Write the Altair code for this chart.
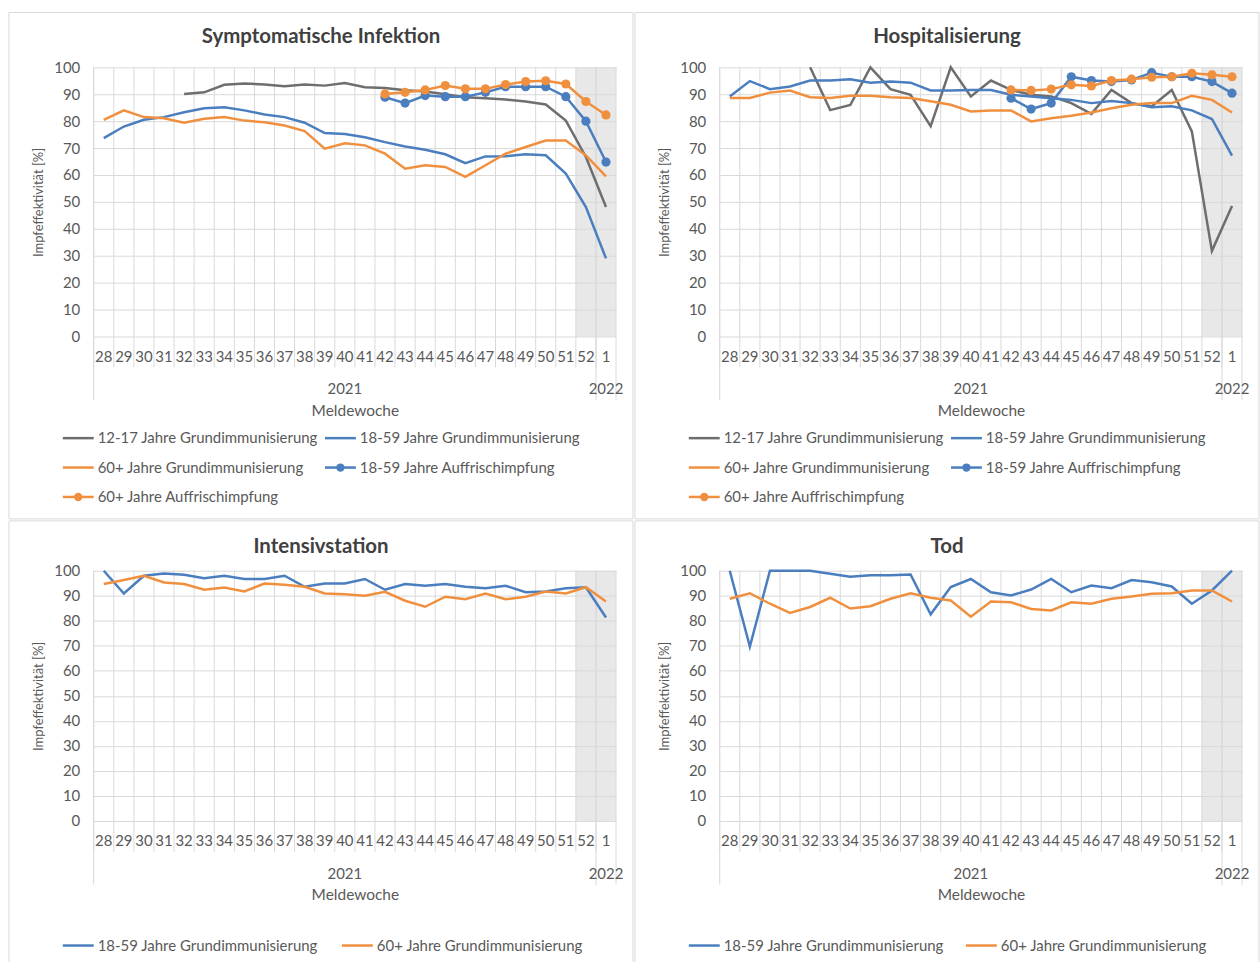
import altair as alt
import pandas as pd

weeks = ["28", "29", "30", "31", "32", "33", "34", "35", "36", "37", "38", "39", "40",
         "41", "42", "43", "44", "45", "46", "47", "48", "49", "50", "51", "52", "1"]
shaded_weeks = ["52", "1"]
year_labels = ["2021", "2022"]
year_center_weeks = ["40", "1"]
year_start_weeks = ["28", "1"]

panel_titles = ["Symptomatische Infektion", "Hospitalisierung", "Intensivstation", "Tod"]
series_names = ["12-17 Jahre Grundimmunisierung", "18-59 Jahre Grundimmunisierung",
                "60+ Jahre Grundimmunisierung", "18-59 Jahre Auffrischimpfung",
                "60+ Jahre Auffrischimpfung"]
series_colors = ["#6E6E6E", "#4A7EBF", "#F0903F", "#4A7EBF", "#F0903F"]
booster_series = ["18-59 Jahre Auffrischimpfung", "60+ Jahre Auffrischimpfung"]

N = None
# Symptomatische Infektion
sym_g12 = [N, N, N, N, 90.1, 90.7, 93.5, 94.0, 93.6, 93.0, 93.6, 93.2, 94.2, 92.6, 92.3,
           91.5, 91.0, 90.0, 88.9, 88.5, 88.0, 87.3, 86.2, 80.2, 66.7, 48.1]
sym_g18 = [73.7, 78.0, 80.5, 81.5, 83.3, 84.8, 85.2, 84.0, 82.5, 81.5, 79.4, 75.6, 75.2,
           74.0, 72.2, 70.6, 69.4, 67.7, 64.4, 66.9, 67.0, 67.7, 67.3, 60.5, 48.1, 29.0]
sym_g60 = [80.5, 84.0, 81.5, 81.1, 79.4, 80.9, 81.5, 80.2, 79.6, 78.4, 76.3, 69.8, 71.8,
           71.0, 67.9, 62.3, 63.6, 63.0, 59.3, 63.6, 67.9, 70.4, 72.8, 72.8, 67.3, 59.5]
sym_b18 = [N, N, N, N, N, N, N, N, N, N, N, N, N, N,
           88.9, 86.7, 89.5, 89.1, 89.1, 90.7, 92.8, 92.8, 92.8, 89.1, 80.0, 64.8]
sym_b60 = [N, N, N, N, N, N, N, N, N, N, N, N, N, N,
           90.1, 90.7, 91.6, 93.2, 92.0, 92.0, 93.6, 94.7, 95.0, 93.8, 87.3, 82.3]
# Hospitalisierung
hos_g12 = [N, N, N, N, 100.0, 84.1, 86.0, 100.0, 91.9, 89.8, 78.1, 100.0, 89.2, 95.1, 91.6,
           89.8, 89.2, 86.7, 82.7, 91.6, 86.7, 85.5, 91.6, 76.2, 31.8, 48.5]
hos_g18 = [89.2, 94.9, 91.9, 92.9, 95.1, 95.1, 95.6, 94.3, 94.7, 94.3, 91.4, 91.4, 91.6,
           91.6, 89.8, 89.2, 88.5, 87.9, 86.7, 87.5, 86.7, 85.2, 85.5, 84.0, 80.8, 67.2]
hos_g60 = [88.6, 88.6, 90.6, 91.4, 88.9, 88.6, 89.4, 89.4, 88.9, 88.6, 87.4, 86.1, 83.6,
           84.0, 84.0, 79.9, 81.1, 82.0, 83.2, 84.8, 86.1, 86.7, 86.7, 89.4, 87.9, 83.2]
hos_b18 = [N, N, N, N, N, N, N, N, N, N, N, N, N, N,
           88.5, 84.5, 86.7, 96.5, 95.1, 94.7, 95.3, 98.0, 96.5, 96.5, 94.7, 90.4]
hos_b60 = [N, N, N, N, N, N, N, N, N, N, N, N, N, N,
           91.6, 91.4, 91.9, 93.5, 93.1, 95.1, 95.6, 96.3, 96.5, 97.8, 97.2, 96.5]
# Intensivstation
its_g18 = [100.0, 90.9, 98.0, 98.9, 98.4, 97.0, 98.0, 96.7, 96.7, 98.0, 93.6, 94.9, 94.9,
           96.7, 92.4, 94.7, 94.0, 94.7, 93.6, 93.0, 94.0, 91.4, 91.7, 93.0, 93.4, 81.3]
its_g60 = [94.7, 96.3, 98.0, 95.3, 94.7, 92.4, 93.3, 91.7, 94.9, 94.4, 93.6, 90.9, 90.6,
           90.0, 91.6, 88.0, 85.6, 89.6, 88.6, 90.9, 88.6, 89.6, 91.7, 90.9, 93.4, 87.7]
# Tod
tod_g18 = [100.0, 69.7, 100.0, 100.0, 100.0, 98.8, 97.6, 98.2, 98.2, 98.5, 82.6, 93.5, 96.7,
           91.4, 90.1, 92.5, 96.7, 91.4, 94.1, 93.0, 96.3, 95.4, 93.7, 86.8, 92.1, 100.0]
tod_g60 = [88.8, 91.0, 86.8, 83.1, 85.5, 89.2, 84.9, 85.8, 88.8, 91.0, 89.2, 88.1, 81.6,
           87.7, 87.4, 84.7, 84.1, 87.4, 86.8, 88.8, 89.7, 90.8, 91.0, 92.1, 92.1, 87.7]

TEXT = "#595959"
GRID = "#D9D9D9"
FONT = "Lato"
W = 524


def panel(title, series_values, H, box_top, box_bottom, title_y, leg_y0, col_step):
    names = list(series_values.keys())
    rows = []
    for s in names:
        for w, v in zip(weeks, series_values[s]):
            if v is not None:
                rows.append({"week": w, "series": s, "value": v})
    df = pd.DataFrame(rows)
    cols = [series_colors[series_names.index(s)] for s in names]

    x_scale = alt.Scale(type="band", domain=weeks, paddingInner=0, paddingOuter=0)
    x_axis = alt.Axis(title="Meldewoche", labelAngle=0, ticks=False, domain=False,
                      grid=False, labelPadding=13, titlePadding=39, labelFontSize=15,
                      titleFontSize=15.5, labelColor=TEXT, titleColor=TEXT,
                      titleFontWeight="normal", labelFont=FONT, titleFont=FONT)
    y_axis = alt.Axis(title="Impfeffektivität [%]", values=list(range(0, 101, 10)),
                      ticks=False, domain=False, grid=True, gridColor=GRID,
                      labelPadding=14, titlePadding=8, labelFontSize=15,
                      titleFontSize=13, labelColor=TEXT, titleColor=TEXT,
                      titleFontWeight="normal", labelFont=FONT, titleFont=FONT)

    def X(bp):
        return alt.X("week:O", scale=x_scale, axis=x_axis, bandPosition=bp)

    y_enc = alt.Y("value:Q", scale=alt.Scale(domain=[0, 100]), axis=y_axis)
    color_scale = alt.Scale(domain=names, range=cols)

    one = alt.Data(values=[{"t": title}])
    border = alt.Chart(one).mark_rect(fillOpacity=0, stroke=GRID, strokeWidth=1).encode(
        x=alt.value(-85), x2=alt.value(W + 17), y=alt.value(box_top), y2=alt.value(box_bottom))
    title_mark = alt.Chart(one).mark_text(fontSize=20.5, fontWeight="bold", color="#404040",
                                          font=FONT).encode(
        x=alt.value((W + 17 - 85) / 2), y=alt.value(title_y), text="t:N")

    shade = alt.Chart(pd.DataFrame({"week": shaded_weeks})).mark_rect(
        color=GRID, opacity=0.6).encode(x=X(0.5), y=alt.value(0), y2=alt.value(H))
    vgrid = alt.Chart(pd.DataFrame({"week": weeks})).mark_rule(
        color=GRID, strokeWidth=1).encode(x=X(0), y=alt.value(0), y2=alt.value(H + 31))
    ysep = alt.Chart(pd.DataFrame({"week": year_start_weeks})).mark_rule(
        color=GRID, strokeWidth=1).encode(x=X(0), y=alt.value(0), y2=alt.value(H + 64))
    redge = alt.Chart(one).mark_rule(color=GRID, strokeWidth=1).encode(
        x=alt.value(W), y=alt.value(0), y2=alt.value(H + 64))
    years = alt.Chart(pd.DataFrame({"week": year_center_weeks, "label": year_labels})).mark_text(
        fontSize=15, color=TEXT, font=FONT).encode(x=X(0.5), y=alt.value(H + 53), text="label:N")

    lines = alt.Chart(df).transform_calculate(
        week_idx="indexof(" + str(weeks) + ", datum.week)").mark_line(strokeWidth=2.5).encode(
        x=X(0.5), y=y_enc,
        color=alt.Color("series:N", scale=color_scale, legend=None),
        order=alt.Order("week_idx:Q"))
    layers = [border, title_mark, shade, vgrid, ysep, redge, years, lines]
    has_booster = any(s in booster_series for s in names)
    if has_booster:
        pts = alt.Chart(df).transform_filter(
            alt.FieldOneOfPredicate(field="series", oneOf=booster_series)).mark_circle(
            size=85, opacity=1).encode(
            x=X(0.5), y=y_enc, color=alt.Color("series:N", scale=color_scale, legend=None))
        layers.append(pts)

    # legend below the plot, laid out in two columns by series order
    leg = alt.Chart(pd.DataFrame({"series": names})).transform_window(
        idx="row_number()").transform_calculate(
        lx=f"-31 + ((datum.idx - 1) % 2) * {col_step}",
        lx2="datum.lx + 31", lc="datum.lx + 15.5", lt="datum.lx + 35",
        ly=f"{leg_y0} + floor((datum.idx - 1) / 2) * 29.5")
    leg_color = alt.Color("series:N", scale=color_scale, legend=None)
    leg_y = alt.Y("ly:Q", scale=None, axis=None)
    leg_line = leg.mark_rule(strokeWidth=2.5).encode(
        x=alt.X("lx:Q", scale=None, axis=None), x2="lx2:Q", y=leg_y, color=leg_color)
    leg_text = leg.mark_text(align="left", baseline="middle", fontSize=15, color=TEXT,
                             font=FONT).encode(
        x=alt.X("lt:Q", scale=None, axis=None), y=leg_y, text="series:N")
    layers += [leg_line, leg_text]
    if has_booster:
        leg_dot = leg.transform_filter(
            alt.FieldOneOfPredicate(field="series", oneOf=booster_series)).mark_circle(
            size=70, opacity=1).encode(
            x=alt.X("lc:Q", scale=None, axis=None), y=leg_y, color=leg_color)
        layers.append(leg_dot)
    return alt.layer(*layers).properties(width=W, height=H)


H1 = 270
H2 = 251
p1 = panel(panel_titles[0], {series_names[0]: sym_g12, series_names[1]: sym_g18,
                             series_names[2]: sym_g60, series_names[3]: sym_b18,
                             series_names[4]: sym_b60},
           H1, -55, H1 + 183, -30, H1 + 102, 263)
p2 = panel(panel_titles[1], {series_names[0]: hos_g12, series_names[1]: hos_g18,
                             series_names[2]: hos_g60, series_names[3]: hos_b18,
                             series_names[4]: hos_b60},
           H1, -55, H1 + 183, -30, H1 + 102, 263)
p3 = panel(panel_titles[2], {series_names[1]: its_g18, series_names[2]: its_g60},
           H2, -50, H2 + 143, -24, H2 + 125, 280)
p4 = panel(panel_titles[3], {series_names[1]: tod_g18, series_names[2]: tod_g60},
           H2, -50, H2 + 143, -24, H2 + 125, 278)

ind = dict(color="independent")
top = alt.hconcat(p1, p2, spacing=0).resolve_scale(**ind)
bottom = alt.hconcat(p3, p4, spacing=0).resolve_scale(**ind)
chart = alt.vconcat(top, bottom, spacing=0).resolve_scale(**ind).properties(
    padding={"left": 8, "top": 10, "right": 0, "bottom": 0}
).configure(font=FONT).configure_view(strokeWidth=0)

chart.save("out.html", embed_options={"renderer": "svg", "actions": False})
